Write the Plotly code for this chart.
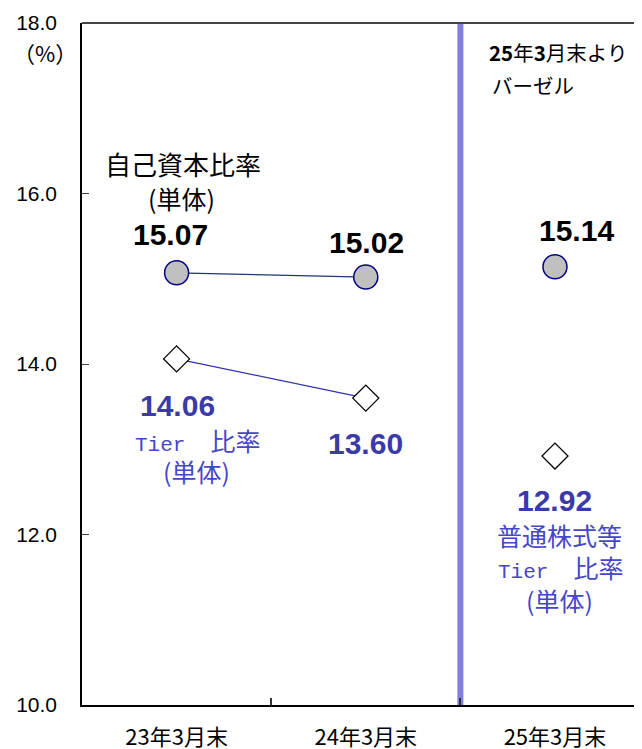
import plotly.graph_objects as go

categories = ["23年3月末", "24年3月末", "25年3月末"]
capital_ratio = [15.07, 15.02, 15.14]
tier1_ratio = [14.06, 13.60, 12.92]
y_ticks = [10.0, 12.0, 14.0, 16.0, 18.0]

NUM_FONT = "Liberation Sans, Arial, Noto Sans CJK JP"
JP_FONT = "Noto Sans CJK JP, Liberation Sans"
LABEL_BLUE = "#3a3aa8"
TEXT_BLUE = "#4646c8"
TIER = "<span style='font-family:Liberation Mono;font-size:21px'>Tier</span>　比率"

fig = go.Figure()

# connector lines (first two periods only)
fig.add_trace(go.Scatter(x=categories[:2], y=capital_ratio[:2], mode="lines",
                         line=dict(color="#1a3a70", width=1.2), hoverinfo="skip"))
fig.add_trace(go.Scatter(x=categories[:2], y=tier1_ratio[:2], mode="lines",
                         line=dict(color="#3333aa", width=1.2), hoverinfo="skip"))
# markers
fig.add_trace(go.Scatter(x=categories, y=capital_ratio, mode="markers",
                         marker=dict(symbol="circle", size=24, color="#c0c0c0",
                                     line=dict(color="#000080", width=1.5))))
fig.add_trace(go.Scatter(x=categories, y=tier1_ratio, mode="markers",
                         marker=dict(symbol="diamond", size=20, color="white",
                                     line=dict(color="black", width=1.3))))

ann = []
cap_shift = [(-6, 38), (1, 35), (22, 36)]
for i, (c, v) in enumerate(zip(categories, capital_ratio)):
    ann.append(dict(x=c, y=v, text=f"<b>{v:.2f}</b>", showarrow=False,
                    xshift=cap_shift[i][0], yshift=cap_shift[i][1],
                    font=dict(family=NUM_FONT, size=30, color="black")))
t1_shift = [(1, -47), (0, -45), (0, -44)]
for i, (c, v) in enumerate(zip(categories, tier1_ratio)):
    ann.append(dict(x=c, y=v, text=f"<b>{v:.2f}</b>", showarrow=False,
                    xshift=t1_shift[i][0], yshift=t1_shift[i][1],
                    font=dict(family=NUM_FONT, size=30, color=LABEL_BLUE)))

# series names
ann += [
    dict(x=categories[0], y=16.35, text="自己資本比率", showarrow=False, xshift=6,
         font=dict(family=JP_FONT, size=26, color="black")),
    dict(x=categories[0], y=15.95, text="(単体)", showarrow=False, xshift=5,
         font=dict(family=JP_FONT, size=25, color="black")),
    dict(x=categories[0], y=13.11, text=TIER, showarrow=False, xshift=21,
         font=dict(family=JP_FONT, size=25, color=TEXT_BLUE)),
    dict(x=categories[0], y=12.74, text="(単体)", showarrow=False, xshift=20,
         font=dict(family=JP_FONT, size=25, color=TEXT_BLUE)),
    dict(x=categories[2], y=11.99, text="普通株式等", showarrow=False, xshift=5,
         font=dict(family=JP_FONT, size=25, color=TEXT_BLUE)),
    dict(x=categories[2], y=11.62, text=TIER, showarrow=False, xshift=6,
         font=dict(family=JP_FONT, size=25, color=TEXT_BLUE)),
    dict(x=categories[2], y=11.23, text="(単体)", showarrow=False, xshift=5,
         font=dict(family=JP_FONT, size=25, color=TEXT_BLUE)),
    dict(x=categories[2], y=17.66, text="<b>25</b>年<b>3</b>月末より", showarrow=False,
         xanchor="left", xshift=-68,
         font=dict(family=JP_FONT, size=20.5, color="black")),
    dict(x=categories[2], y=17.27, text="バーゼル", showarrow=False,
         xanchor="left", xshift=-65,
         font=dict(family=JP_FONT, size=20.5, color="black")),
    dict(xref="paper", yref="paper", x=-0.066, y=0.957, text="（%）", showarrow=False,
         xanchor="center", yanchor="middle",
         font=dict(family=JP_FONT, size=22, color="black")),
]

# the page body adds an 8px offset, so the figure is sized to fit the window
fig.update_layout(
    width=634, height=741,
    margin=dict(l=74, r=0, t=15, b=44),
    plot_bgcolor="white", paper_bgcolor="white",
    showlegend=False,
    annotations=ann,
    shapes=[dict(type="line", xref="x", yref="paper", x0=1.5, x1=1.5, y0=0, y1=1,
                 line=dict(color="#8080e0", width=6), layer="below")],
)
fig.update_xaxes(type="category", range=[-0.5, 2.46], showgrid=False, automargin=False,
                 showline=True, linecolor="black", linewidth=1.5, mirror=False,
                 ticks="inside", tickson="boundaries", ticklen=7, tickwidth=2,
                 tickcolor="#333", ticklabelstandoff=12,
                 tickfont=dict(family=JP_FONT, size=22, color="black"))
fig.update_yaxes(range=[10, 18], tickvals=y_ticks, tickformat=".1f", showgrid=False,
                 automargin=False,
                 showline=True, linecolor="black", linewidth=1.5,
                 ticks="inside", ticklen=7, tickwidth=1, tickcolor="#444",
                 ticklabelstandoff=19,
                 tickfont=dict(family=NUM_FONT, size=21, color="black"), zeroline=False)
# top border line
fig.add_shape(type="line", xref="paper", yref="paper", x0=0, x1=1, y0=1, y1=1,
              line=dict(color="#444", width=2))

fig.write_html("out.html")
